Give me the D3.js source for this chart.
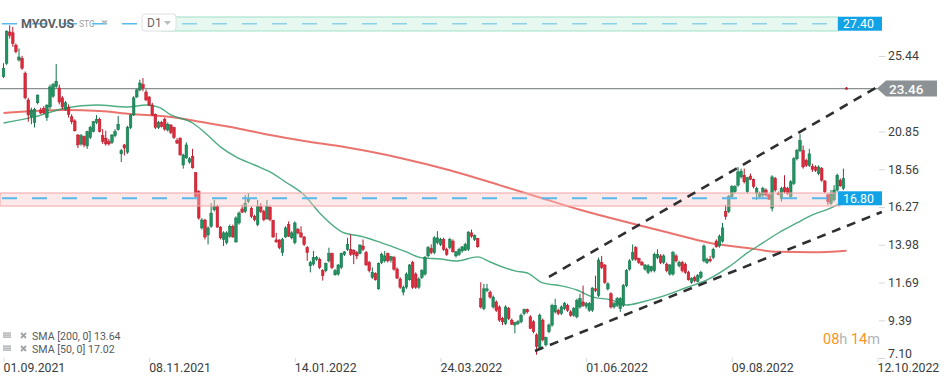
<!DOCTYPE html>
<html><head><meta charset="utf-8">
<script src="https://cdn.jsdelivr.net/npm/d3@7"></script>
<style>
body{margin:0;background:#fff;}
svg{display:block;font-family:Roboto,"Noto Sans",Arial,sans-serif;}
</style>
</head><body>
<svg id="c" width="949" height="384"></svg>
<script>
// ---------- DATA (daily bars, index 0 = 01.09.2021) ----------
const symbol = "MYOV.US";
const opens = [
24.18,25.0,26.9,26.85,26.1,25.2,25.3,24.4,22.77,21.75,
21.4,22.6,22.16,22.25,21.7,22.35,23.0,23.6,23.5,22.9,
22.2,22.3,21.75,21.5,20.64,20.1,20.55,19.98,20.5,20.85,
21.4,21.6,20.6,20.45,20.25,20.2,20.6,20.98,19.5,20.04,
19.6,21.1,21.86,22.95,23.38,23.7,23.25,22.95,22.46,21.9,
21.1,21.4,21.6,20.95,21.25,21.1,20.3,20.45,18.82,19.25,
19.0,19.35,18.35,17.2,15.0,15.48,14.57,15.1,16.1,16.3,
15.05,14.3,14.1,14.5,15.1,14.15,15.3,16.15,16.0,16.6,
16.2,15.7,15.2,16.3,16.0,15.55,16.25,15.45,14.27,14.27,
13.5,14.45,15.2,14.4,14.1,14.9,14.7,14.45,13.8,12.7,
12.8,13.1,13.1,12.4,12.4,13.0,13.45,12.15,12.2,12.6,
13.4,13.7,13.7,13.65,13.5,13.45,13.9,13.5,12.9,12.0,
12.25,11.3,12.9,13.0,13.45,13.05,13.2,12.5,11.9,11.1,
11.4,11.85,12.9,12.2,11.4,12.0,12.2,13.3,13.75,13.5,
14.1,14.0,14.3,13.7,13.8,14.2,13.3,13.4,13.6,13.65,
13.7,14.7,14.3,14.35,10.7,10.1,11.2,11.1,10.2,10.5,
10.2,9.5,9.2,10.1,9.4,9.1,9.2,9.3,9.8,10.05,
9.6,9.3,8.5,7.75,9.4,7.9,8.7,9.1,9.9,10.0,
9.8,10.1,10.3,9.9,9.7,9.6,10.2,10.5,10.25,10.0,
10.0,11.3,10.9,12.9,12.75,11.3,11.0,10.2,10.3,10.1,
10.3,11.5,12.5,13.1,13.8,13.15,12.9,12.5,12.3,12.4,
12.4,13.2,13.3,12.9,12.8,12.2,12.2,13.3,12.7,12.9,
12.8,12.3,11.7,12.0,11.75,12.0,13.0,12.9,13.1,13.2,
14.2,13.9,14.2,16.0,16.0,16.9,17.2,17.6,18.1,18.2,
17.2,18.15,17.95,17.1,16.9,17.0,17.3,17.0,16.2,18.0,
17.1,16.8,17.45,17.4,16.9,17.7,19.2,19.7,19.7,19.1,
18.8,18.75,18.7,18.3,18.6,17.85,17.0,16.5,16.7,17.3,
17.9,17.4,23.5];
const highs = [
25.0,27.0,27.3,27.2,26.2,25.9,25.45,24.5,22.9,22.3,
22.3,23.1,22.3,22.4,22.5,23.7,23.8,24.95,23.7,23.0,
22.7,22.5,21.9,21.6,20.7,20.7,20.6,20.9,21.2,21.5,
21.85,21.7,21.0,20.9,20.4,20.7,21.0,21.8,19.8,20.1,
21.2,21.9,23.0,23.45,24.0,24.1,23.4,23.0,22.6,21.95,
21.5,21.5,21.7,21.4,21.3,21.15,20.45,20.5,19.5,20.2,
19.3,19.8,18.4,17.3,15.6,15.55,15.1,16.5,16.7,16.4,
15.1,14.8,14.8,15.2,15.2,15.7,16.0,16.4,17.0,17.1,
16.3,15.8,16.7,16.5,16.1,16.7,16.35,15.5,14.7,14.3,
14.4,15.1,15.4,14.8,15.4,15.0,15.1,14.5,13.9,13.0,
13.6,13.3,13.2,12.5,12.9,13.8,13.5,12.5,12.8,13.5,
13.6,14.4,14.6,13.7,13.6,14.0,14.3,13.6,13.0,12.6,
12.3,12.9,13.5,13.6,13.5,13.3,13.3,12.6,12.0,11.5,
12.3,12.8,13.0,12.3,12.0,12.5,13.3,13.9,14.0,14.5,
14.8,14.4,14.4,13.8,14.4,14.3,13.6,13.8,13.9,14.1,
14.8,14.9,14.6,14.4,11.7,11.6,11.6,11.2,10.9,10.6,
10.3,9.6,10.3,10.2,9.5,9.3,9.4,9.8,10.1,10.1,
9.7,9.4,8.6,9.8,9.5,8.4,9.2,10.4,10.7,10.1,
10.3,10.5,10.4,10.0,10.2,10.7,11.0,11.5,10.5,10.5,
11.4,12.1,13.2,13.3,12.8,11.7,11.1,10.5,10.8,10.8,
11.6,12.5,13.1,14.0,13.9,13.2,13.0,12.8,12.8,12.7,
13.5,13.7,13.4,13.4,12.9,12.8,13.6,13.4,13.0,13.0,
12.9,12.4,12.0,12.1,12.2,12.4,14.0,13.2,13.3,13.8,
14.3,14.6,15.3,16.4,17.0,17.6,17.6,18.7,18.6,18.6,
18.1,18.3,18.0,17.5,17.2,17.5,17.4,17.1,18.2,18.1,
17.2,17.5,18.2,17.5,17.9,19.3,19.8,20.7,20.0,19.2,
19.8,18.9,18.8,18.8,18.7,17.9,17.1,17.3,17.6,18.3,
18.0,18.6,23.55];
const lows = [
24.1,24.9,26.5,26.0,25.6,25.1,24.6,22.8,21.45,21.3,
21.1,22.5,21.9,21.9,21.5,22.2,22.9,23.5,22.5,22.2,
22.1,21.7,21.3,20.85,19.85,20.0,19.9,19.8,20.4,20.8,
21.3,20.8,20.1,20.0,20.0,20.1,20.5,20.9,19.0,19.4,
19.5,21.0,21.8,22.9,23.3,23.3,22.7,22.4,21.8,21.0,
21.0,21.1,20.9,20.85,20.7,20.4,20.1,19.4,18.6,19.2,
18.9,18.6,16.85,15.5,14.9,14.3,14.0,15.0,16.0,15.0,
14.3,13.9,14.0,14.4,14.4,14.1,15.2,15.9,15.9,16.5,
15.6,15.4,15.1,15.9,15.4,15.5,15.4,14.4,14.1,13.7,
13.3,14.4,14.45,14.3,14.0,14.6,14.4,13.9,13.0,12.3,
12.7,13.0,12.5,11.8,12.3,12.9,12.5,12.1,12.1,12.5,
13.3,13.6,13.3,12.8,13.1,13.4,13.6,12.7,12.3,11.9,
11.8,11.25,12.8,12.9,12.9,12.9,12.4,11.9,11.3,10.9,
11.3,11.8,11.3,11.3,11.3,11.9,12.1,13.2,13.4,13.4,
14.0,13.9,13.6,13.3,13.7,13.5,13.2,13.3,13.5,13.6,
13.6,14.4,14.2,13.8,10.1,10.0,11.1,10.7,10.1,9.9,
9.3,9.1,9.1,9.4,9.1,8.6,9.1,9.2,9.7,9.8,
8.85,8.6,7.3,7.6,8.1,7.8,8.6,9.0,9.8,9.7,
9.7,10.0,9.9,9.6,9.6,9.5,10.1,10.2,10.1,9.9,
9.9,11.1,10.8,12.5,11.6,11.2,10.1,10.1,10.2,9.9,
10.2,11.4,12.4,13.0,13.0,12.8,12.7,12.4,12.2,12.3,
12.3,13.1,12.8,12.8,12.3,12.1,12.1,12.9,12.6,12.3,
12.2,11.8,11.6,11.7,11.7,11.9,12.9,12.8,12.9,13.1,
13.8,13.8,14.1,15.5,15.9,16.8,17.1,17.5,18.0,17.7,
17.1,17.9,17.4,16.7,16.8,16.8,16.9,16.7,16.0,17.2,
17.0,16.6,17.1,17.0,16.8,17.6,19.1,19.6,18.6,18.7,
18.7,18.4,18.4,18.2,17.8,17.1,16.4,16.4,16.6,17.2,
17.5,17.3,23.4];
const closes = [
24.69,26.95,26.7,26.2,25.7,25.38,24.7,22.9,21.86,22.16,
22.2,23.07,21.98,21.98,22.46,23.56,23.7,23.9,22.65,22.35,
22.6,21.9,21.45,20.9,20.04,20.6,20.04,20.84,21.1,21.45,
21.6,20.85,20.25,20.1,20.1,20.64,20.84,21.3,19.7,19.85,
21.1,21.86,22.9,23.38,23.8,23.5,22.77,22.46,21.86,21.1,
21.4,21.15,21.0,21.3,20.8,20.5,20.15,19.43,19.43,20.04,
19.2,18.65,16.9,15.6,15.48,14.45,15.0,15.9,16.3,15.05,
14.4,14.7,14.7,15.1,14.45,15.6,15.9,15.95,16.5,16.8,
15.7,15.5,16.3,16.0,15.5,16.3,15.5,14.45,14.15,13.8,
14.3,15.0,14.5,14.7,15.3,14.7,14.45,14.0,13.5,12.9,
13.2,13.2,12.6,12.1,12.85,13.45,12.6,12.4,12.75,13.45,
13.55,14.0,13.4,13.4,13.3,13.96,13.7,12.75,12.4,12.3,
11.85,12.85,13.4,13.3,13.0,13.25,12.5,11.95,11.4,11.4,
12.2,12.75,11.4,11.4,11.9,12.4,13.2,13.8,13.5,14.4,
14.4,14.3,13.7,13.4,14.3,13.55,13.55,13.7,13.85,14.0,
14.75,14.5,14.55,13.85,10.2,11.3,11.3,10.8,10.8,10.0,
9.4,9.3,10.2,9.5,9.15,9.25,9.3,9.7,10.05,9.9,
8.9,8.7,7.8,9.7,8.2,8.35,9.1,10.3,10.3,9.8,
10.2,10.4,10.0,9.7,10.1,10.6,10.7,10.3,10.4,10.4,
11.35,11.2,13.05,12.6,11.7,11.6,10.2,10.4,10.7,10.7,
11.5,12.4,13.0,13.5,13.1,12.9,12.75,12.75,12.7,12.65,
13.4,13.4,12.9,13.3,12.4,12.75,13.5,13.0,12.9,12.4,
12.3,11.85,11.95,11.8,12.1,12.3,13.9,13.1,13.0,13.7,
13.85,14.5,15.0,15.7,16.9,17.5,17.5,18.4,18.45,17.8,
18.05,17.95,17.5,17.4,17.1,17.4,17.0,16.75,18.1,17.3,
17.05,17.4,17.2,17.1,17.8,19.2,19.7,20.3,18.7,18.8,
19.5,18.55,18.5,18.7,17.9,17.2,16.6,17.05,17.3,18.2,
17.55,18.0,23.46];

// SMA readings (bar index -> value)
const sma200Idx = [0,10,20,31,41,54,64,75,86,97,110,128,144,160,173,186,200,206,220,228,240,250,261,272];
const sma200Val = [21.98,22.1,22.16,22.1,21.92,21.74,21.43,21.07,20.64,20.28,19.91,19.25,18.5,17.6,16.85,16.1,15.4,15.12,14.45,14.09,13.78,13.55,13.52,13.62];
const sma50Idx = [0,10,20,30,40,46,50,54,61,64,70,75,81,86,91,97,102,110,115,122,130,135,141,146,153,157,165,169,174,180,185,190,196,201,206,212,220,227,234,240,245,250,256,261,267,270];
const sma50Val = [21.37,21.74,22.28,22.46,22.34,22.46,22.34,21.86,21.37,20.95,19.92,19.31,18.82,18.4,17.79,17.0,15.91,14.69,14.51,14.09,13.54,13.18,13.11,12.99,13.24,12.93,12.39,12.26,11.66,11.48,11.23,10.81,10.63,10.32,10.5,10.81,11.35,11.84,12.63,13.48,14.09,14.69,15.3,15.79,16.21,16.51];

// 23.15 is hidden behind the last-price label in the reference
const yTicks = [25.44,20.85,18.56,16.27,13.98,11.69,9.39,7.10];
const xTickIdx = [0,47,94,141,188,235,282];
const xTickLabels = ["01.09.2021","08.11.2021","14.01.2022","24.03.2022","01.06.2022","09.08.2022","12.10.2022"];

const lastPrice = 23.46;
const resistance = 27.40, resistanceZone = [26.96, 27.81];
const support = 16.80, supportZone = [16.33, 17.12];
const trendUpper = [[176, 12.02],[282, 23.56]];
const trendLower = [[171.5, 7.53],[283.4, 15.97]];
const legendItems = ["SMA [200,  0] 13.64", "SMA [50,  0] 17.02"];

// ---------- DRAW ----------
const svg = d3.select("#c");
const x = d3.scaleLinear().domain([0, 282]).range([3.5, 877.5]);
const y = d3.scaleLinear().domain([7.10, 25.44]).range([358, 56]);

const UP = "#1f9360", UPS = "#137048", DN = "#df2a3c", DNS = "#b3192a";

const plot = svg.append("g");

// SMA lines
const lineGen = d3.line().x(d => x(d[0])).y(d => y(d[1])).curve(d3.curveMonotoneX);
plot.append("path").datum(sma200Idx.map((d,i)=>[d, sma200Val[i]]))
  .attr("d", lineGen).attr("fill","none").attr("stroke","#e65a55").attr("stroke-opacity",0.85).attr("stroke-width",2);
plot.append("path").datum(sma50Idx.map((d,i)=>[d, sma50Val[i]]))
  .attr("d", lineGen).attr("fill","none").attr("stroke","#2f9d6c").attr("stroke-opacity",0.85).attr("stroke-width",1.4);

// last price line
plot.append("line").attr("x1",0).attr("x2",878).attr("y1",y(lastPrice)).attr("y2",y(lastPrice))
  .attr("stroke","#8a8f92").attr("stroke-width",1.2);

// candles
const bars = opens.map((o,i)=>({i, o, h: highs[i], l: lows[i], c: closes[i]}));
plot.selectAll("line.wick").data(bars).join("line").attr("class","wick")
  .attr("x1", d=>x(d.i)).attr("x2", d=>x(d.i))
  .attr("y1", d=>y(d.h)).attr("y2", d=>y(d.l))
  .attr("stroke", d=> d.c>=d.o ? UPS : DNS).attr("stroke-width",1);
plot.selectAll("rect.body").data(bars).join("rect").attr("class","body")
  .attr("x", d=>x(d.i)-1.3).attr("width",2.6)
  .attr("y", d=>y(Math.max(d.o,d.c)))
  .attr("height", d=>Math.max(1.2, Math.abs(y(d.o)-y(d.c))))
  .attr("fill", d=> d.c>=d.o ? UP : DN)
  .attr("stroke", d=> d.c>=d.o ? UPS : DNS).attr("stroke-width",0.5);

// support zone (pink) drawn over candles
plot.append("rect").attr("x",0).attr("width",840)
  .attr("y", y(supportZone[1])).attr("height", y(supportZone[0])-y(supportZone[1]))
  .attr("fill","#f9c9c9").attr("fill-opacity",0.4).attr("stroke","#f2a5a5").attr("stroke-width",1);
plot.append("line").attr("x1",2).attr("x2",838).attr("y1",y(support)).attr("y2",y(support))
  .attr("stroke","#5ab8ea").attr("stroke-width",2).attr("stroke-dasharray","15,15");

// resistance level line
plot.append("line").attr("x1",2).attr("x2",838).attr("y1",y(resistance)).attr("y2",y(resistance))
  .attr("stroke","#5ab8ea").attr("stroke-width",1.6).attr("stroke-dasharray","15,15");

// header
const hdr = svg.append("g");
hdr.append("text").attr("x",21).attr("y",27.5).text(symbol)
  .attr("font-size",12.5).attr("font-weight","bold").attr("fill","#5b6166");
hdr.append("text").attr("x",79).attr("y",27).text("STC").attr("font-size",8.5).attr("fill","#9aa0a4");
hdr.append("path").attr("d","M101,20.5 L108,20.5 L104.5,24.5 Z").attr("fill","#b8bcbf");
hdr.append("rect").attr("x",142).attr("y",14).attr("width",34).attr("height",17).attr("rx",3)
  .attr("fill","#fff").attr("stroke","#dcdfe1");
hdr.append("text").attr("x",147).attr("y",27).text("D1").attr("font-size",12).attr("fill","#666");
hdr.append("path").attr("d","M164,21 L171,21 L167.5,25 Z").attr("fill","#b8bcbf");

// resistance zone (mint)
plot.append("rect").attr("x",162).attr("width",676)
  .attr("y", y(resistanceZone[1])).attr("height", y(resistanceZone[0])-y(resistanceZone[1]))
  .attr("fill","#c9efe0").attr("fill-opacity",0.45).attr("stroke","#9fe0c6").attr("stroke-width",1);

// trend lines
[trendUpper, trendLower].forEach(t=>{
  plot.append("line").attr("x1",x(t[0][0])).attr("y1",y(t[0][1])).attr("x2",x(t[1][0])).attr("y2",y(t[1][1]))
    .attr("stroke","#2d2f31").attr("stroke-width",2.6).attr("stroke-dasharray","9,7");
});

// y axis
const yAxis = svg.append("g").attr("transform","translate(879,0)")
  .call(d3.axisRight(y).tickValues(yTicks).tickSize(6).tickPadding(3).tickFormat(d3.format(".2f")));
yAxis.select(".domain").remove();
yAxis.selectAll(".tick line").attr("stroke","#d5d8da");
yAxis.selectAll(".tick text").attr("fill","#3a3d40").attr("font-size",12.3)
  .attr("font-family","Roboto,'Noto Sans',sans-serif");
yAxis.selectAll(".tick").filter(d=>d===7.10).select("text").attr("dy","-0.05em");

// x axis
const xAxis = svg.append("g").attr("transform","translate(0,358)")
  .call(d3.axisBottom(x).tickValues(xTickIdx).tickSize(4).tickPadding(1).tickFormat((d,i)=>xTickLabels[i]));
xAxis.select(".domain").remove();
xAxis.selectAll(".tick line").attr("stroke","#d5d8da");
xAxis.selectAll(".tick text").attr("text-anchor","start").attr("x",-0.5).attr("fill","#3a3d40")
  .attr("font-size",12.3).attr("font-family","Roboto,'Noto Sans',sans-serif");

// value labels
function boxLabel(val, bg){
  const yy = y(val);
  const g = svg.append("g");
  g.append("rect").attr("x",838).attr("y",yy-7).attr("width",44).attr("height",14).attr("fill",bg);
  g.append("text").attr("x",843).attr("y",yy+4.5).text(val.toFixed(2)).attr("fill","#fff").attr("font-size",12.3);
}
boxLabel(resistance, "#12a3e6");
boxLabel(support, "#12a3e6");

// last price label (arrow)
{
  const yy = y(lastPrice);
  svg.append("path").attr("d",`M877,${yy} L886,${yy-8} L937,${yy-8} L937,${yy+8} L886,${yy+8} Z`).attr("fill","#8b9194");
  svg.append("text").attr("x",889).attr("y",yy+5).text(lastPrice.toFixed(2))
    .attr("fill","#fff").attr("font-size",13.5).attr("font-weight","500");
}

// legend
const lg = svg.append("g");
legendItems.forEach((t,k)=>{
  const yy = 336 + k*13;
  [-3,-1,1].forEach(dy=> lg.append("rect").attr("x",3).attr("y",yy+dy-0.5).attr("width",8).attr("height",1.2).attr("fill","#9ea3a6"));
  lg.append("path").attr("d",`M21,${yy-3} L26,${yy+2} M26,${yy-3} L21,${yy+2}`).attr("stroke","#9ea3a6").attr("stroke-width",1.8);
  lg.append("text").attr("x",32).attr("y",yy+3.5).text(t).attr("font-size",10.6).attr("fill","#555a5e");
});

// countdown
const cd = svg.append("text").attr("x",823).attr("y",344).attr("font-size",14.5);
cd.append("tspan").text("08").attr("fill","#f7941d");
cd.append("tspan").text("h ").attr("fill","#b0b4b7");
cd.append("tspan").text("14").attr("fill","#f7941d");
cd.append("tspan").text("m").attr("fill","#b0b4b7");
</script>
</body></html>
